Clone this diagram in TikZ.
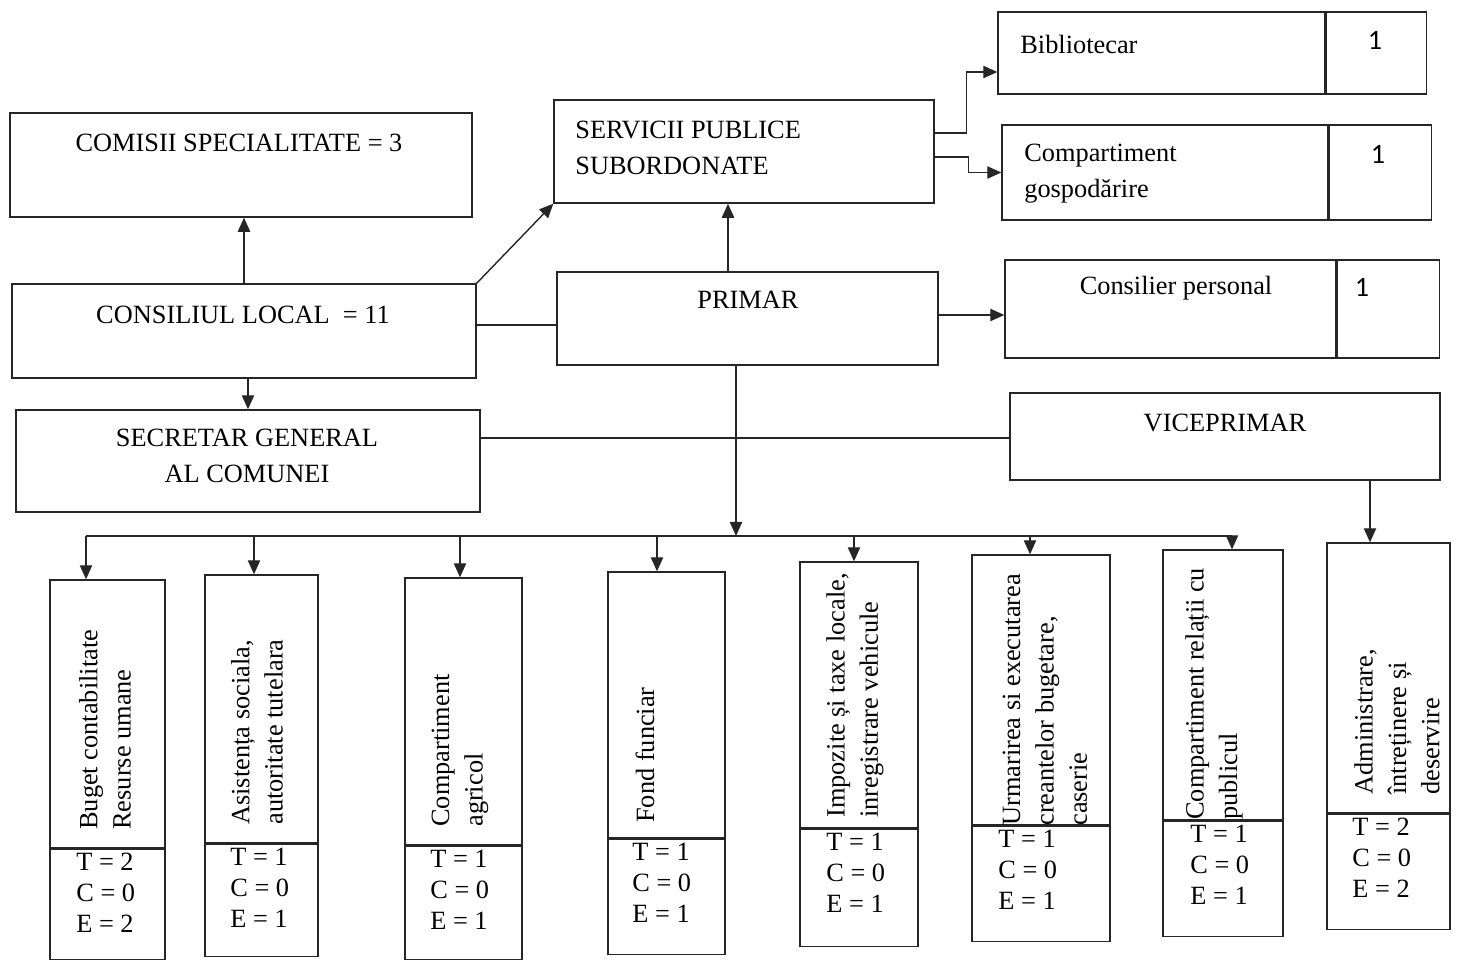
\documentclass[tikz,border=0pt]{standalone}
\usepackage{fontspec}
\setmainfont{Liberation Serif}
\newfontfamily\numfont{Carlito}
\usetikzlibrary{positioning,arrows.meta}

\begin{document}
\begin{tikzpicture}[x=0.02cm, y=-0.02cm,
    every node/.style={font=\fontsize{15}{20.5}\selectfont},
    box/.style={rectangle, draw=black!85, line width=0.8pt, inner sep=0pt},
    txt/.style={inner sep=0pt},
    vtxt/.style={inner sep=0pt, rotate=90, anchor=west, align=left, font=\fontsize{15}{19}\selectfont},
    cnt/.style={inner sep=0pt, anchor=north west, align=left, font=\fontsize{15}{17.6}\selectfont},
    num/.style={inner sep=0pt, font=\numfont\fontsize{16}{18}\selectfont},
    link/.style={draw=black!85, line width=0.8pt},
    arr/.style={link, -{Triangle[length=8pt,width=7pt]}}]
    \useasboundingbox (0,0) rectangle (1458,964);

    % left column
    \node[box, minimum width=9.24cm, minimum height=2.08cm] (comisii) at (241,165) {};
    \node[txt] (comisiit) at (239,143) {COMISII SPECIALITATE = 3};
    \node[box, minimum width=9.28cm, minimum height=1.88cm] (consiliu) at (244,331) {};
    \node[txt] (consiliut) at (243,315) {CONSILIUL LOCAL \ = 11};
    \node[box, minimum width=9.28cm, minimum height=2.04cm] (secretar) at (248,461) {};
    \node[txt, align=center] (secretart) at (247,456) {SECRETAR GENERAL\\AL COMUNEI};

    % middle column
    \node[box, minimum width=7.6cm, minimum height=2.06cm] (servicii) at (744,151.5) {};
    \node[txt, align=left, anchor=west] (serviciit) at (575,148) {SERVICII PUBLICE\\SUBORDONATE};
    \node[box, minimum width=7.62cm, minimum height=1.86cm] (primar) at (747.5,318.5) {};
    \node[txt] (primart) at (748,300) {PRIMAR};

    % right column
    \node[box, minimum width=6.54cm, minimum height=1.64cm] (biblio) at (1161.5,53) {};
    \node[box, minimum width=2cm, minimum height=1.64cm, right=0pt of biblio] (biblion) {};
    \node[txt, anchor=west] (bibliot) at (1020,44) {Bibliotecar};
    \node[num] (biblionr) at (1375,40) {1};
    \node[box, minimum width=6.52cm, minimum height=1.9cm] (gosp) at (1165,172.5) {};
    \node[box, minimum width=2.04cm, minimum height=1.9cm, right=0pt of gosp] (gospn) {};
    \node[txt, align=left, anchor=west] (gospt) at (1024,174) {Compartiment\\gospodărire};
    \node[num] (gospnr) at (1378,154) {1};
    \node[box, minimum width=6.62cm, minimum height=1.96cm] (consilier) at (1170.5,309) {};
    \node[box, minimum width=2.04cm, minimum height=1.96cm, right=0pt of consilier] (consiliern) {};
    \node[txt] (consiliert) at (1176,288) {Consilier personal};
    \node[num] (consiliernr) at (1362,287) {1};
    \node[box, minimum width=8.6cm, minimum height=1.74cm] (vice) at (1225,436.5) {};
    \node[txt] (vicet) at (1225,423) {VICEPRIMAR};

    % compartments
    \node[box, minimum width=2.3cm, minimum height=5.36cm] (buget) at (107.5,714) {};
    \node[box, minimum width=2.3cm, minimum height=2.2cm, below=0pt of buget] (bugetn) {};
    \node[vtxt] (bugett) at (105,830) {Buget contabilitate\\Resurse umane};
    \node[cnt] (bugetc) at (76,853) {T = 2\\C = 0\\E = 2};

    \node[box, minimum width=2.26cm, minimum height=5.36cm] (asist) at (261.5,709) {};
    \node[box, minimum width=2.26cm, minimum height=2.24cm, below=0pt of asist] (asistn) {};
    \node[vtxt] (asistt) at (257,825) {Asistența sociala,\\autoritate tutelara};
    \node[cnt] (asistc) at (230,848) {T = 1\\C = 0\\E = 1};

    \node[box, minimum width=2.34cm, minimum height=5.34cm] (agricol) at (463.5,711.5) {};
    \node[box, minimum width=2.34cm, minimum height=2.26cm, below=0pt of agricol] (agricoln) {};
    \node[vtxt] (agricolt) at (460,827) {Compartiment\\agricol};
    \node[cnt] (agricolc) at (430,850) {T = 1\\C = 0\\E = 1};

    \node[box, minimum width=2.34cm, minimum height=5.32cm] (fond) at (666.5,705) {};
    \node[box, minimum width=2.34cm, minimum height=2.3cm, below=0pt of fond] (fondn) {};
    \node[vtxt] (fondt) at (645,823) {Fond funciar};
    \node[cnt] (fondc) at (632,843) {T = 1\\C = 0\\E = 1};

    \node[box, minimum width=2.36cm, minimum height=5.32cm] (impozite) at (859,695) {};
    \node[box, minimum width=2.36cm, minimum height=2.34cm, below=0pt of impozite] (impoziten) {};
    \node[vtxt] (impozitet) at (855,818) {Impozite și taxe locale,\\inregistrare vehicule};
    \node[cnt] (impozitec) at (826,833) {T = 1\\C = 0\\E = 1};

    \node[box, minimum width=2.76cm, minimum height=5.4cm] (urmarire) at (1041,690) {};
    \node[box, minimum width=2.76cm, minimum height=2.3cm, below=0pt of urmarire] (urmariren) {};
    \node[vtxt] (urmariret) at (1045,826) {Urmarirea si executarea\\creantelor bugetare,\\caserie};
    \node[cnt] (urmarirec) at (998,830) {T = 1\\C = 0\\E = 1};

    \node[box, minimum width=2.4cm, minimum height=5.4cm] (relatii) at (1223,685) {};
    \node[box, minimum width=2.4cm, minimum height=2.3cm, below=0pt of relatii] (relatiin) {};
    \node[vtxt] (relatiit) at (1214,820) {Compartiment relații cu\\publicul};
    \node[cnt] (relatiic) at (1190,825) {T = 1\\C = 0\\E = 1};

    \node[box, minimum width=2.46cm, minimum height=5.4cm] (admin) at (1388.5,678) {};
    \node[box, minimum width=2.46cm, minimum height=2.3cm, below=0pt of admin] (adminn) {};
    \node[vtxt] (admint) at (1397,795) {Administrare,\\întreținere și\\deservire};
    \node[cnt] (adminc) at (1352,818) {T = 2\\C = 0\\E = 2};

    % connectors
    \coordinate (cp) at (0,325);
    \coordinate (ps) at (728,0);
    \coordinate (sb) at (0,133);
    \coordinate (bb) at (0,72);
    \coordinate (sg) at (0,157);
    \coordinate (pc) at (0,315);
    \coordinate (sv) at (0,438);
    \coordinate (va) at (1370,0);
    \draw[arr] (consiliu.north) -- (comisii.south -| consiliu.north);
    \draw[arr] (consiliu.south -| secretar.north) -- (secretar.north);
    \draw[arr] (consiliu.north east) -- (servicii.south west);
    \draw[link] (consiliu.east |- cp) -- (primar.west |- cp);
    \draw[arr] (primar.north -| ps) -- (servicii.south -| ps);
    \draw[arr] (servicii.east |- sb) -- ++(32,0) |- (biblio.west |- bb);
    \draw[arr] (servicii.east |- sg) -- ++(34,0) |- (gosp.west);
    \draw[arr] (primar.east |- pc) -- (consilier.west |- pc);
    \draw[link] (secretar.east |- sv) -- (vice.west |- sv);
    \draw[arr] (vice.south -| va) -- (admin.north -| va);

    % bus to compartments
    \coordinate (bus1) at (86,536);
    \coordinate (bus2) at (254,536);
    \coordinate (bus3) at (460,536);
    \coordinate (bus4) at (657,536);
    \coordinate (bus5) at (854,536);
    \coordinate (bus6) at (1030,536);
    \coordinate (bus7) at (1232,536);
    \coordinate (busp) at (736,536);
    \draw[arr] (primar.south -| busp) -- (busp);
    \draw[link] (bus1) -- (bus7);
    \draw[arr] (bus1) -- (bus1 |- buget.north);
    \draw[arr] (bus2) -- (bus2 |- asist.north);
    \draw[arr] (bus3) -- (bus3 |- agricol.north);
    \draw[arr] (bus4) -- (bus4 |- fond.north);
    \draw[arr] (bus5) -- (bus5 |- impozite.north);
    \draw[arr] (bus6) -- (bus6 |- urmarire.north);
    \draw[arr] (bus7) -- (bus7 |- relatii.north);
\end{tikzpicture}
\end{document}
